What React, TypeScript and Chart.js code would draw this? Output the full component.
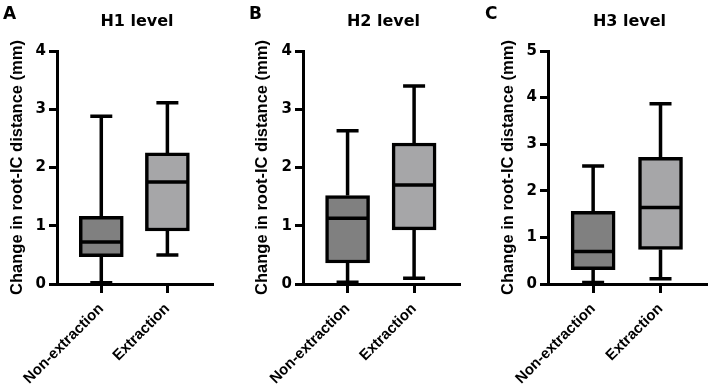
import React, { useEffect, useRef } from "react";
import { Chart, registerables } from "chart.js";

Chart.register(...registerables);

// ---------- data ----------
const categories = ["Non-extraction", "Extraction"];
const panelLetters = ["A", "B", "C"];
const panelTitles = ["H1 level", "H2 level", "H3 level"];
const yAxisMax = [4, 4, 5];
const yAxisTitle = "Change in root-IC distance (mm)";

const h1Min = [0.02, 0.5];
const h1Q1 = [0.47, 0.91];
const h1Median = [0.72, 1.75];
const h1Q3 = [1.16, 2.25];
const h1Max = [2.88, 3.11];

const h2Min = [0.03, 0.1];
const h2Q1 = [0.36, 0.93];
const h2Median = [1.13, 1.7];
const h2Q3 = [1.52, 2.42];
const h2Max = [2.63, 3.4];

const h3Min = [0.03, 0.11];
const h3Q1 = [0.31, 0.74];
const h3Median = [0.7, 1.64];
const h3Q3 = [1.56, 2.72];
const h3Max = [2.53, 3.87];

const boxColors = ["#808080", "#a6a6a8"];

type Stats = { min: number[]; q1: number[]; median: number[]; q3: number[]; max: number[] };

const panelStats: Stats[] = [
  { min: h1Min, q1: h1Q1, median: h1Median, q3: h1Q3, max: h1Max },
  { min: h2Min, q1: h2Q1, median: h2Median, q3: h2Q3, max: h2Max },
  { min: h3Min, q1: h3Q1, median: h3Median, q3: h3Q3, max: h3Max },
];

// ---------- layout (pixels, per panel canvas) ----------
const CANVAS_W = 236;
const CANVAS_H = 390;
const plotLefts = [57, 67, 76];
const plotRights = [213, 224, 235];
const plotTop = 51;
const plotBottom = 284;
const yTitlePads = [8, 17, 27];
const letterXs = [3, 13, 13];
const BOX_W = 44;
const CAP_W = 22;
const LINE_W = 3.5;

function Panel({ idx }: { idx: number }) {
  const ref = useRef<HTMLCanvasElement | null>(null);

  useEffect(() => {
    const canvas = ref.current;
    if (!canvas) return;
    const stats = panelStats[idx];

    const whiskerPlugin = {
      id: "whiskers" + idx,
      afterDatasetsDraw(chart: any) {
        const { ctx } = chart;
        const x = chart.scales.x;
        const y = chart.scales.y;
        ctx.save();
        ctx.strokeStyle = "#000";
        ctx.lineWidth = LINE_W;
        ctx.lineCap = "butt";
        for (let i = 0; i < categories.length; i++) {
          const cx = x.getPixelForValue(i);
          const pMin = y.getPixelForValue(stats.min[i]);
          const pQ1 = y.getPixelForValue(stats.q1[i]);
          const pMed = y.getPixelForValue(stats.median[i]);
          const pQ3 = y.getPixelForValue(stats.q3[i]);
          const pMax = y.getPixelForValue(stats.max[i]);
          ctx.beginPath();
          ctx.moveTo(cx, pMax);
          ctx.lineTo(cx, pQ3);
          ctx.moveTo(cx, pQ1);
          ctx.lineTo(cx, pMin);
          ctx.moveTo(cx - CAP_W / 2, pMax);
          ctx.lineTo(cx + CAP_W / 2, pMax);
          ctx.moveTo(cx - CAP_W / 2, pMin);
          ctx.lineTo(cx + CAP_W / 2, pMin);
          ctx.moveTo(cx - BOX_W / 2 + 2, pMed);
          ctx.lineTo(cx + BOX_W / 2 - 2, pMed);
          ctx.stroke();
        }
        ctx.restore();
      },
    };

    const decorPlugin = {
      id: "decor" + idx,
      afterDraw(chart: any) {
        const { ctx, chartArea } = chart;
        ctx.save();
        ctx.fillStyle = "#000";
        ctx.textBaseline = "alphabetic";
        ctx.font = "bold 17px 'DejaVu Sans'";
        ctx.textAlign = "left";
        ctx.fillText(panelLetters[idx], letterXs[idx], 19);
        ctx.font = "bold 16px 'DejaVu Sans'";
        ctx.textAlign = "center";
        ctx.fillText(panelTitles[idx], (chartArea.left + chartArea.right) / 2 + 2, 26);
        ctx.restore();
      },
    };

    const chart = new Chart(canvas, {
      type: "bar",
      data: {
        datasets: [
          {
            data: categories.map((_, i) => ({ x: i, y: [stats.q1[i], stats.q3[i]] })) as any,
            backgroundColor: boxColors,
            borderColor: "#000",
            borderWidth: LINE_W,
            borderSkipped: false,
            barThickness: BOX_W,
          } as any,
        ],
      },
      options: {
        animation: false,
        responsive: false,
        devicePixelRatio: 1,
        layout: {
          padding: { left: 0, right: CANVAS_W - plotRights[idx], top: plotTop, bottom: 0 },
        },
        plugins: {
          legend: { display: false },
          tooltip: { enabled: false },
          title: { display: false },
        },
        scales: {
          x: {
            type: "linear",
            min: -0.67,
            max: 1.69,
            offset: false,
            afterBuildTicks: (s: any) => {
              s.ticks = categories.map((_, i) => ({ value: i }));
            },
            afterFit: (s: any) => {
              s.height = CANVAS_H - plotBottom;
            },
            grid: {
              display: true,
              offset: false,
              drawOnChartArea: false,
              drawTicks: true,
              tickLength: 9,
              tickWidth: 3,
              tickColor: "#000",
            },
            border: { display: true, color: "#000", width: 3 },
            ticks: {
              autoSkip: false,
              minRotation: 45,
              maxRotation: 45,
              color: "#000",
              padding: 7,
              font: { family: "'Liberation Sans'", weight: "bold", size: 15 },
              callback: (v: any) => categories[v] ?? "",
            },
          } as any,
          y: {
            min: 0,
            max: yAxisMax[idx],
            afterFit: (s: any) => {
              s.width = plotLefts[idx];
            },
            ticks: {
              stepSize: 1,
              color: "#000",
              padding: 3,
              font: { family: "'DejaVu Sans'", weight: "bold", size: 15 },
            },
            grid: {
              drawOnChartArea: false,
              drawTicks: true,
              tickLength: 8,
              tickWidth: 3,
              tickColor: "#000",
            },
            border: { display: true, color: "#000", width: 3 },
            title: {
              display: true,
              text: yAxisTitle,
              color: "#000",
              font: { family: "'Liberation Sans'", weight: "bold", size: 16.5 },
              padding: { top: yTitlePads[idx], bottom: 0 },
            },
          } as any,
        },
      },
      plugins: [whiskerPlugin, decorPlugin],
    });
    return () => chart.destroy();
  }, [idx]);

  return (
    <canvas
      ref={ref}
      width={CANVAS_W}
      height={CANVAS_H}
      style={{ width: CANVAS_W, height: CANVAS_H, display: "block" }}
    />
  );
}

export default function App() {
  return (
    <div
      style={{
        position: "fixed",
        left: 0,
        top: 0,
        width: 708,
        height: 390,
        display: "flex",
        background: "#fff",
      }}
    >
      {[0, 1, 2].map((i) => (
        <Panel key={i} idx={i} />
      ))}
    </div>
  );
}
